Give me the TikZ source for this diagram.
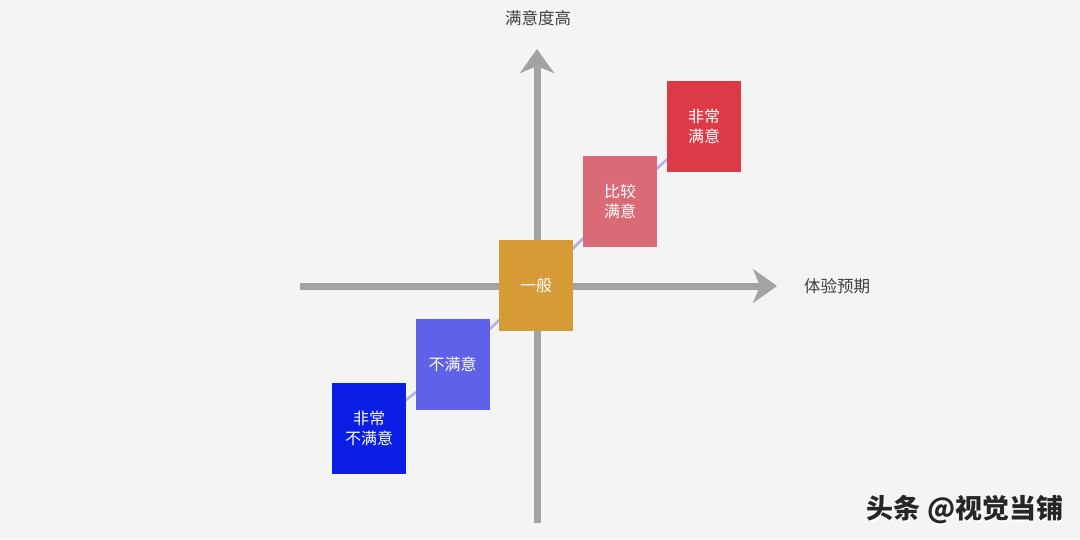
\documentclass[tikz,border=0pt]{standalone}
\usepackage{fontspec}
\setmainfont{Noto Sans CJK SC}
\usetikzlibrary{arrows.meta}
\definecolor{bg}{HTML}{F4F4F4}
\definecolor{axisgray}{HTML}{A3A3A3}
\definecolor{linkc}{HTML}{B4ACEC}
\definecolor{c1}{HTML}{0A1EE6}
\definecolor{c2}{HTML}{5F62E8}
\definecolor{c3}{HTML}{D69A36}
\definecolor{c4}{HTML}{D96A76}
\definecolor{c5}{HTML}{DC3A46}
\tikzset{
  box/.style={minimum width=74pt,minimum height=91pt,inner sep=0pt,text=white,align=center,
    font=\fontsize{16}{20}\selectfont},
  axis/.style={draw=axisgray,line width=7pt,-{Stealth[length=24pt,width=34pt,inset=7pt]}},
  link/.style={draw=linkc,line width=2.5pt},
  lbl/.style={text=black!75,font=\fontsize{16.5}{18}\selectfont},
  wmark/.style={font=\fontsize{27}{30}\selectfont\bfseries}
}
\begin{document}
\begin{tikzpicture}[x=1pt,y=-1pt]
\fill[bg] (0,0) rectangle (1080,539);
\useasboundingbox (0,0) rectangle (1080,539);
\coordinate (xs) at (300,286);
\coordinate (xe) at (777,286);
\coordinate (ys) at (537,523);
\coordinate (ye) at (537,49);
\draw[axis] (xs) -- (xe);
\draw[axis] (ys) -- (ye);
\coordinate (p1) at (369,428.5);
\coordinate (p2) at (452.5,364);
\coordinate (p3) at (536,285.5);
\coordinate (p4) at (620,201.5);
\coordinate (p5) at (704,126.5);
\draw[link] (p1) -- (p2) -- (p3) -- (p4) -- (p5);
\node[box,fill=c1] (b1) at (p1) {非常\\不满意};
\node[box,fill=c2] (b2) at (p2) {不满意};
\node[box,fill=c3] (b3) at (p3) {一般};
\node[box,fill=c4] (b4) at (p4) {比较\\满意};
\node[box,fill=c5] (b5) at (p5) {非常\\满意};
\node[lbl] (ly) at (538,18) {满意度高};
\node[lbl] (lx) at (837,286) {体验预期};
\node[wmark,text=white] (wms) at (966.5,511.5) {头条 @视觉当铺};
\node[wmark,text=black!85] (wm) at (965,510) {头条 @视觉当铺};
\end{tikzpicture}
\end{document}
